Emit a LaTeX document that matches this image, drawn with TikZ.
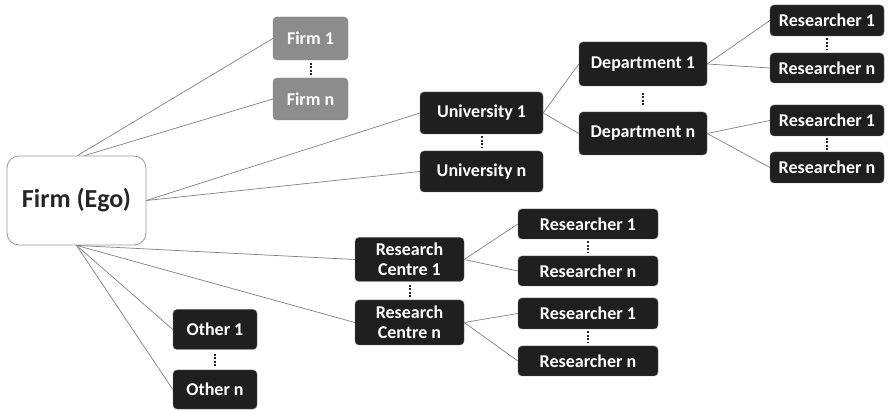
\documentclass[tikz,border=0pt]{standalone}
\usepackage{fontspec}
\setmainfont{Carlito}
\usetikzlibrary{calc}
\begin{document}
\begin{tikzpicture}[x=1pt,y=-1pt,
  bbox/.style={draw=black!60, fill=black!88, text=white, rounded corners=4pt, font=\bfseries\fontsize{18}{19}\selectfont, inner sep=0pt, align=center},
  gbox/.style={draw=black!50, fill=black!45, text=white, rounded corners=4pt, font=\bfseries\fontsize{18}{19}\selectfont, inner sep=0pt},
  ebox/.style={draw=black!40, line width=0.8pt, fill=white, text=black!85, rounded corners=12pt, font=\bfseries\fontsize{26}{28}\selectfont, inner sep=0pt},
  conn/.style={draw=black!50, line width=0.7pt},
  vdots/.style={draw=black!85, line width=2pt, dash pattern=on 2pt off 1.5pt}]
\useasboundingbox (0,0) rectangle (894,411);
\newcommand\sepdots[2]{\draw[vdots] ($(#1.south)!0.5!(#2.north)+(0,-6)$) -- ($(#1.south)!0.5!(#2.north)+(0,6)$);}
% ego
\node[ebox, minimum width=139pt, minimum height=89pt] (ego) at (76.5,200.5) {Firm (Ego)};
% firms
\node[gbox, minimum width=75pt, minimum height=43pt] (f1) at (310.5,38.5) {Firm 1};
\node[gbox, minimum width=75pt, minimum height=42pt] (fn) at (310.5,99) {Firm n};
% universities
\node[bbox, minimum width=123pt, minimum height=42pt] (u1) at (481.5,113) {University 1};
\node[bbox, minimum width=123pt, minimum height=41pt] (un) at (481.5,171.5) {University n};
% departments
\node[bbox, minimum width=128pt, minimum height=44pt] (d1) at (643,64) {Department 1};
\node[bbox, minimum width=128pt, minimum height=43pt] (dn) at (643,133.5) {Department n};
% researchers of departments
\node[bbox, minimum width=114pt, minimum height=31pt] (ra1) at (827,20.5) {Researcher 1};
\node[bbox, minimum width=114pt, minimum height=30pt] (ran) at (827,68) {Researcher n};
\node[bbox, minimum width=114pt, minimum height=31pt] (rb1) at (827,120.5) {Researcher 1};
\node[bbox, minimum width=114pt, minimum height=31pt] (rbn) at (827,167.5) {Researcher n};
% research centres
\node[bbox, minimum width=109pt, minimum height=44pt, font=\bfseries\fontsize{18}{19.5}\selectfont] (c1) at (409.5,259.5) {Research\\Centre 1};
\node[bbox, minimum width=109pt, minimum height=45pt, font=\bfseries\fontsize{18}{19.5}\selectfont] (cn) at (409.5,322.5) {Research\\Centre n};
% researchers of centres
\node[bbox, minimum width=140pt, minimum height=30pt] (rc1) at (588,224) {Researcher 1};
\node[bbox, minimum width=140pt, minimum height=30pt] (rcn) at (588,271) {Researcher n};
\node[bbox, minimum width=140pt, minimum height=31pt] (rd1) at (588,313.5) {Researcher 1};
\node[bbox, minimum width=140pt, minimum height=30pt] (rdn) at (588,361) {Researcher n};
% others
\node[bbox, minimum width=84pt, minimum height=40pt] (o1) at (215,329.5) {Other 1};
\node[bbox, minimum width=84pt, minimum height=39pt] (on) at (215,389.5) {Other n};
% connectors from ego
\draw[conn] ([xshift=1pt]ego.north) -- (f1.west);
\draw[conn] ([xshift=8pt]ego.north) -- (fn.west);
\draw[conn] (ego.east) -- (u1.west);
\draw[conn] (ego.east) -- (un.west);
\draw[conn] (ego.south) -- (c1.west);
\draw[conn] (ego.south) -- (cn.west);
\draw[conn] (ego.south) -- (o1.west);
\draw[conn] (ego.south) -- (on.west);
% university tree
\draw[conn] (u1.east) -- (d1.west);
\draw[conn] (u1.east) -- (dn.west);
\draw[conn] (d1.east) -- (ra1.west);
\draw[conn] (d1.east) -- (ran.west);
\draw[conn] (dn.east) -- (rb1.west);
\draw[conn] (dn.east) -- (rbn.west);
% centre tree
\draw[conn] (c1.east) -- (rc1.west);
\draw[conn] (c1.east) -- (rcn.west);
\draw[conn] (cn.east) -- (rd1.west);
\draw[conn] (cn.east) -- (rdn.west);
% dotted separators
\sepdots{f1}{fn}
\sepdots{u1}{un}
\sepdots{d1}{dn}
\sepdots{ra1}{ran}
\sepdots{rb1}{rbn}
\sepdots{c1}{cn}
\sepdots{rc1}{rcn}
\sepdots{rd1}{rdn}
\sepdots{o1}{on}
\end{tikzpicture}
\end{document}
